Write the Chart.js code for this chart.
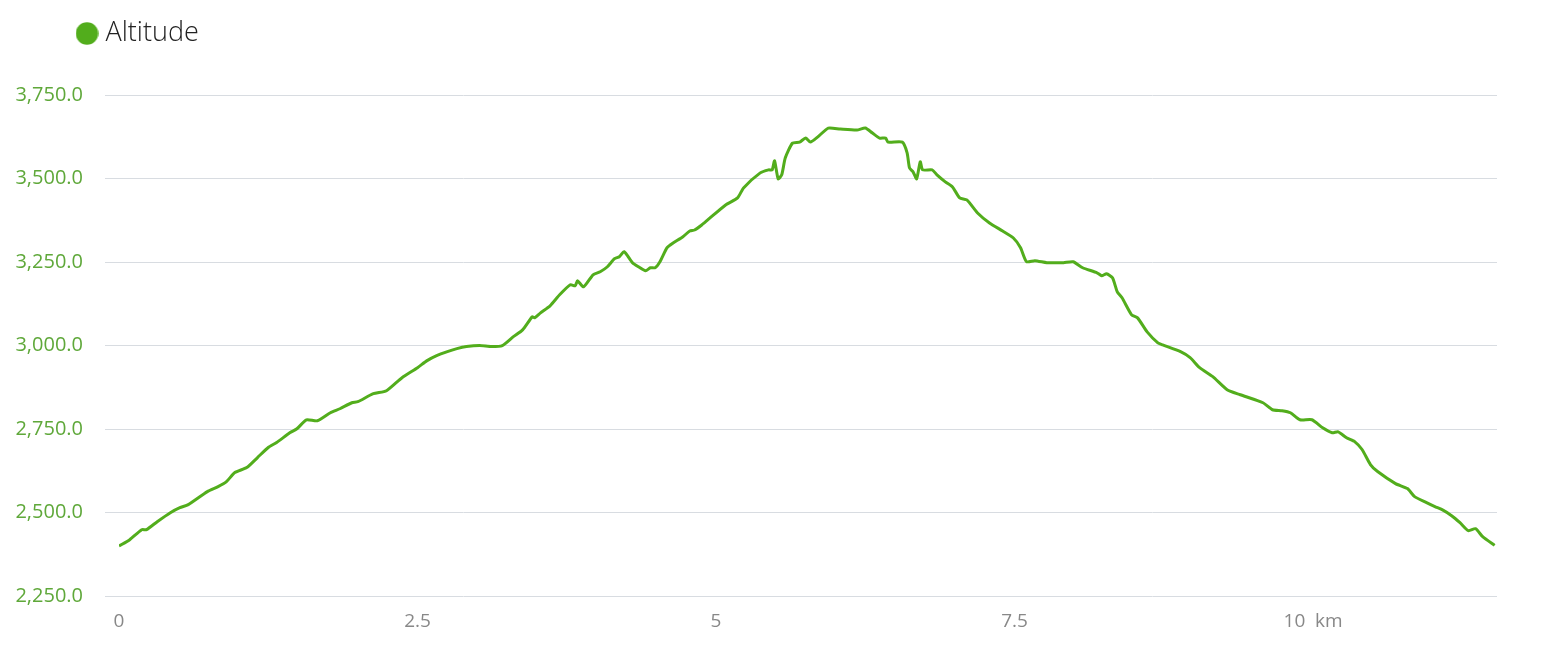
<!DOCTYPE html>
<html>
<head>
<meta charset="utf-8">
<script src="https://cdn.jsdelivr.net/npm/chart.js@4/dist/chart.umd.min.js"></script>
<style>
  html, body { margin: 0; padding: 0; background: #fff; }
  #wrap { width: 1541px; height: 649px; }
</style>
</head>
<body>
<div id="wrap"><canvas id="chart"></canvas></div>
<script>
// distance along the track (km) and altitude (m)
const distKm = [
  0, 0.09, 0.19, 0.23, 0.32, 0.43, 0.51, 0.58, 0.74, 0.83,
  0.90, 0.97, 1.07, 1.16, 1.25, 1.32, 1.43, 1.49, 1.57, 1.66,
  1.77, 1.85, 1.95, 2.00, 2.13, 2.24, 2.37, 2.50, 2.58, 2.66,
  2.75, 2.83, 2.91, 3.02, 3.12, 3.21, 3.30, 3.38, 3.46, 3.48,
  3.53, 3.61, 3.69, 3.78, 3.82, 3.84, 3.89, 3.97, 4.03, 4.09,
  4.15, 4.19, 4.23, 4.30, 4.35, 4.41, 4.45, 4.49, 4.53, 4.59,
  4.64, 4.72, 4.78, 4.82, 4.88, 4.93, 5.08, 5.18, 5.23, 5.37,
  5.44, 5.47, 5.49, 5.52, 5.55, 5.58, 5.64, 5.70, 5.75, 5.79,
  5.85, 5.94, 6.04, 6.18, 6.25, 6.31, 6.37, 6.42, 6.44, 6.56,
  6.60, 6.62, 6.65, 6.68, 6.71, 6.73, 6.81, 6.85, 6.92, 6.98,
  7.04, 7.10, 7.19, 7.29, 7.40, 7.49, 7.55, 7.60, 7.67, 7.77,
  7.84, 7.91, 7.99, 8.07, 8.19, 8.23, 8.27, 8.32, 8.36, 8.40,
  8.48, 8.53, 8.61, 8.70, 8.74, 8.89, 8.97, 9.05, 9.16, 9.28,
  9.39, 9.58, 9.66, 9.74, 9.81, 9.89, 9.99, 10.08, 10.16, 10.21,
  10.28, 10.35, 10.41, 10.48, 10.54, 10.69, 10.79, 10.85, 10.95, 11.02,
  11.08, 11.16, 11.23, 11.30, 11.36, 11.42, 11.52
];
const altitudeM = [
  2400, 2419, 2449, 2449, 2473, 2500, 2515, 2524, 2563, 2578,
  2593, 2620, 2635, 2665, 2695, 2710, 2739, 2751, 2778, 2775,
  2799, 2811, 2829, 2832, 2856, 2865, 2904, 2934, 2955, 2970,
  2982, 2991, 2997, 3000, 2997, 3000, 3026, 3047, 3086, 3083,
  3098, 3119, 3152, 3182, 3179, 3194, 3176, 3212, 3221, 3236,
  3260, 3266, 3281, 3248, 3236, 3224, 3233, 3233, 3251, 3293,
  3307, 3325, 3343, 3346, 3361, 3376, 3421, 3442, 3472, 3517,
  3526, 3526, 3553, 3499, 3511, 3562, 3606, 3609, 3621, 3609,
  3624, 3651, 3648, 3645, 3651, 3636, 3621, 3621, 3609, 3609,
  3577, 3532, 3520, 3499, 3550, 3526, 3526, 3511, 3490, 3475,
  3442, 3436, 3397, 3367, 3343, 3322, 3293, 3251, 3254, 3248,
  3248, 3248, 3251, 3233, 3218, 3209, 3215, 3203, 3161, 3143,
  3092, 3083, 3041, 3008, 3002, 2982, 2964, 2934, 2907, 2868,
  2853, 2829, 2808, 2805, 2799, 2778, 2778, 2754, 2739, 2742,
  2724, 2712, 2689, 2644, 2623, 2587, 2572, 2548, 2530, 2518,
  2509, 2491, 2470, 2446, 2452, 2428, 2402
];
const xTicks = [0, 2.5, 5, 7.5, 10];
const yTicks = [2250, 2500, 2750, 3000, 3250, 3500, 3750];
const seriesName = "Altitude";
const distUnit = "km";

const green = "#52ad1c";

// round legend marker, drawn once on a small canvas
const dot = document.createElement("canvas");
dot.width = 23;
dot.height = 23;
const dctx = dot.getContext("2d");
dctx.fillStyle = green;
dctx.beginPath();
dctx.arc(11.5, 11.5, 11.2, 0, Math.PI * 2);
dctx.fill();

// the legend sits a bit right of the chart's left edge and above the padding
const legendShift = {
  id: "legendShift",
  afterLayout(chart) {
    chart.legend.left += 60;
    chart.legend.top -= 38;
  }
};

new Chart(document.getElementById("chart"), {
  type: "line",
  data: {
    datasets: [{
      label: seriesName,
      data: distKm.map((d, i) => ({ x: d, y: altitudeM[i] })),
      borderColor: green,
      backgroundColor: green,
      borderWidth: 3,
      pointRadius: 0,
      tension: 0.2,
      fill: false
    }]
  },
  options: {
    responsive: true,
    maintainAspectRatio: false,
    animation: false,
    layout: { padding: { left: 12, right: 44, top: 48, bottom: 10 } },
    plugins: {
      tooltip: { enabled: false },
      legend: {
        align: "start",
        labels: {
          usePointStyle: true,
          pointStyle: dot,
          pointStyleWidth: 10,
          boxHeight: 16,
          padding: 10,
          color: "#222",
          font: { family: "'Open Sans', sans-serif", size: 27, weight: 300 }
        }
      }
    },
    scales: {
      x: {
        type: "linear",
        min: 0,
        max: 11.54,
        afterBuildTicks: (axis) => { axis.ticks = xTicks.map((v) => ({ value: v })); },
        grid: { display: false },
        border: { display: false },
        ticks: {
          color: "#888",
          padding: 6,
          font: { family: "'Open Sans', sans-serif", size: 19 },
          maxRotation: 0,
          callback: (v) => v === 10 ? v + "  " + distUnit : String(v)
        }
      },
      y: {
        min: 2250,
        max: 3750,
        afterBuildTicks: (axis) => { axis.ticks = yTicks.map((v) => ({ value: v })); },
        afterFit: (axis) => { axis.width = 107; },
        grid: { color: "#d8dce1", lineWidth: 1, tickLength: 14 },
        border: { display: false },
        ticks: {
          color: "#5fa83a",
          padding: 22,
          font: { family: "'Open Sans', sans-serif", size: 20 },
          callback: (v) => v.toLocaleString("en-US", { minimumFractionDigits: 1, maximumFractionDigits: 1 })
        }
      }
    }
  },
  plugins: [legendShift]
});
</script>
</body>
</html>
